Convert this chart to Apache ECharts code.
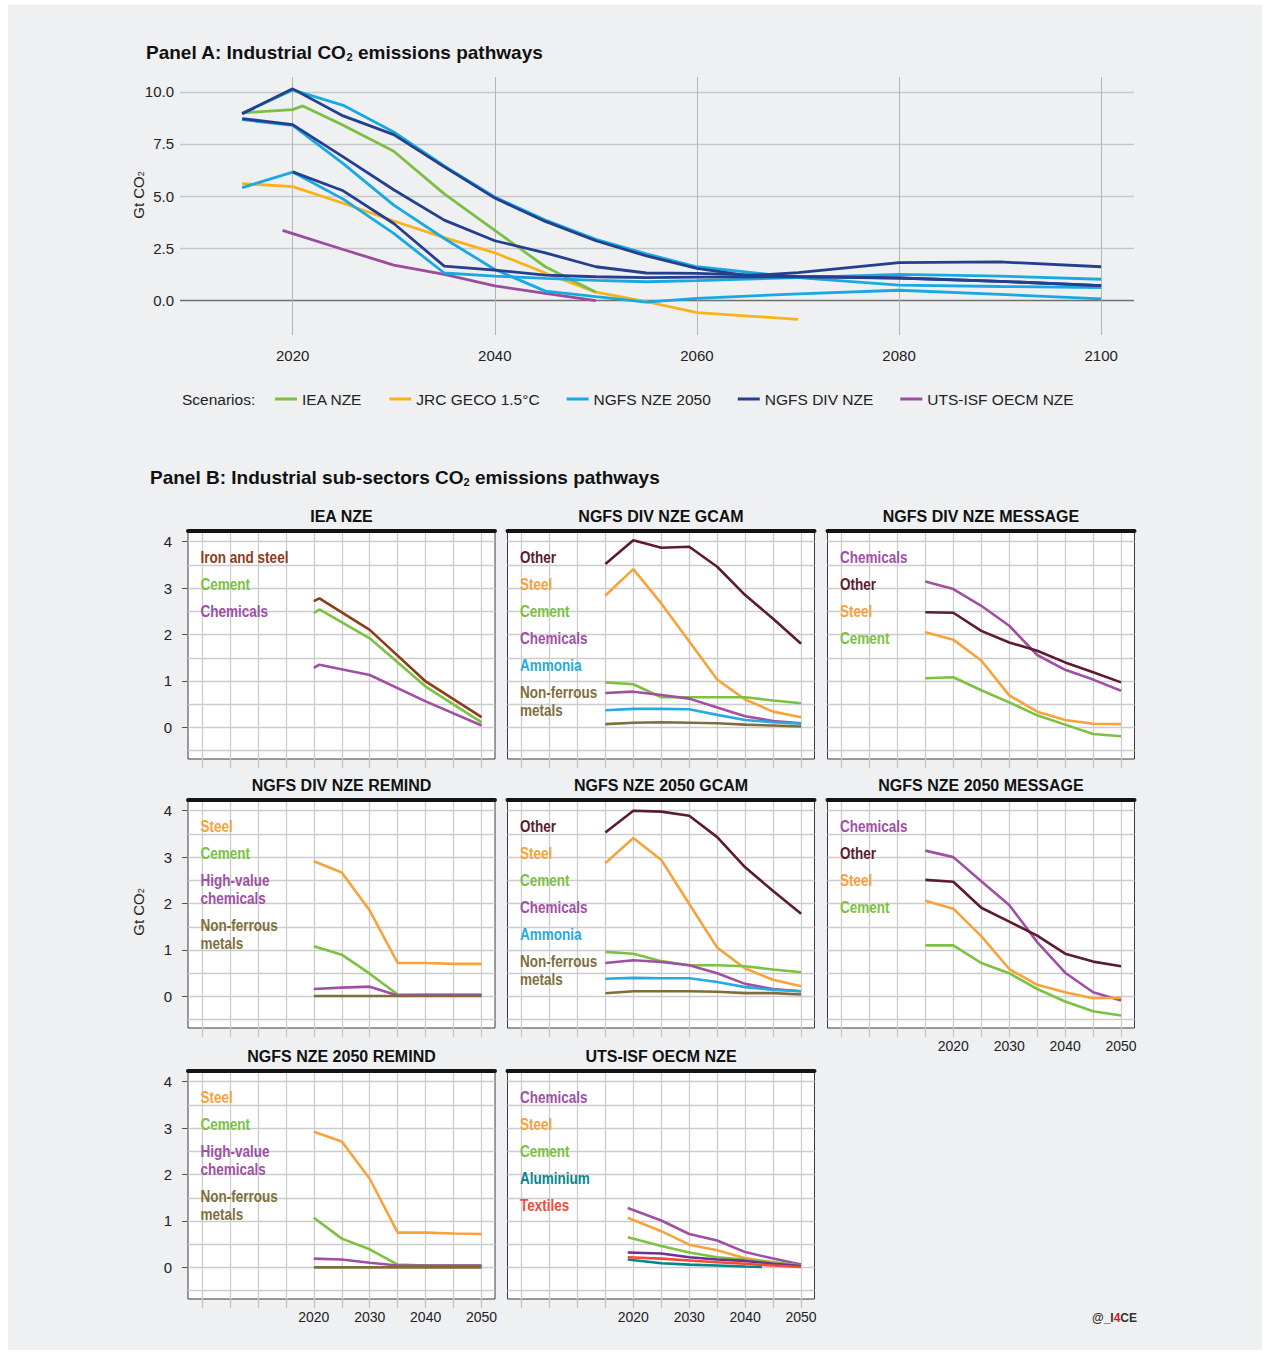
<!DOCTYPE html>
<html>
<head>
<meta charset="utf-8">
<script src="https://cdn.jsdelivr.net/npm/echarts@6/dist/echarts.min.js"></script>
<style>
html,body{margin:0;padding:0;background:#ffffff;}
#bg{position:absolute;left:8px;top:5px;width:1254px;height:1345px;background:#eff0f2;}
#chart{position:absolute;left:0;top:0;width:1263px;height:1352px;}
</style>
</head>
<body>
<div id="bg"></div>
<div id="chart"></div>
<script>
// ================= Panel A data =================
const scenarioNames = ['IEA NZE', 'JRC GECO 1.5°C', 'NGFS NZE 2050', 'NGFS DIV NZE', 'UTS-ISF OECM NZE'];
const xTicksA = [2020, 2040, 2060, 2080, 2100];
const yTicksA = [0, 2.5, 5, 7.5, 10];

const ieaYears = [2015, 2020, 2021, 2025, 2030, 2035, 2040, 2045, 2050];
const ieaValues = [9.0, 9.15, 9.33, 8.4, 7.15, 5.1, 3.35, 1.6, 0.37];

const jrcYears = [2015, 2020, 2025, 2030, 2035, 2040, 2045, 2050, 2055, 2060, 2070];
const jrcValues = [5.6, 5.45, 4.65, 3.8, 3.0, 2.27, 1.3, 0.38, -0.08, -0.6, -0.93];

const utsYears = [2019, 2025, 2030, 2035, 2040, 2045, 2050];
const utsValues = [3.35, 2.43, 1.68, 1.23, 0.68, 0.32, -0.03];

const ngfsYears = [2015, 2020, 2025, 2030, 2035, 2040, 2045, 2050, 2055, 2060, 2070, 2080, 2090, 2100];
const nzeGcamValues = [8.96, 10.1, 9.36, 8.08, 6.45, 4.95, 3.85, 2.92, 2.22, 1.6, 1.08, 0.72, 0.65, 0.6];
const nzeMessageValues = [8.67, 8.4, 6.56, 4.56, 2.96, 1.47, 0.43, 0.16, -0.1, 0.08, 0.3, 0.47, 0.27, 0.06];
const nzeRemindValues = [5.4, 6.15, 4.85, 3.2, 1.3, 1.15, 1.04, 0.95, 0.88, 0.93, 1.08, 1.23, 1.15, 1.0];

const divGcamYears = [2015, 2020, 2025, 2030, 2035, 2040, 2045, 2050, 2055, 2060, 2065, 2070, 2080, 2090, 2100];
const divGcamValues = [8.96, 10.15, 8.85, 7.95, 6.4, 4.9, 3.78, 2.85, 2.12, 1.52, 1.17, 1.32, 1.8, 1.83, 1.6];
const divMessageValues = [8.72, 8.43, 6.88, 5.3, 3.84, 2.85, 2.27, 1.6, 1.3, 1.28, 1.14, 1.06, 0.9, 0.69];
const divRemindYears = [2020, 2025, 2030, 2035, 2040, 2045, 2050, 2055, 2060, 2070, 2080, 2090, 2100];
const divRemindValues = [6.16, 5.25, 3.68, 1.63, 1.44, 1.2, 1.12, 1.08, 1.1, 1.12, 1.06, 0.9, 0.69];

// ================= Panel B data =================
const panelTitles = ['IEA NZE', 'NGFS DIV NZE GCAM', 'NGFS DIV NZE MESSAGE', 'NGFS DIV NZE REMIND',
  'NGFS NZE 2050 GCAM', 'NGFS NZE 2050 MESSAGE', 'NGFS NZE 2050 REMIND', 'UTS-ISF OECM NZE'];
const xTicksB = [2000, 2005, 2010, 2015, 2020, 2025, 2030, 2035, 2040, 2045, 2050];
const xLabelsB = [2020, 2030, 2040, 2050];
const yGridB = [-0.5, 0, 0.5, 1, 1.5, 2, 2.5, 3, 3.5, 4];
const yLabelsB = [0, 1, 2, 3, 4];

const yearsB = [2015, 2020, 2025, 2030, 2035, 2040, 2045, 2050];
const yearsIEA = [2020, 2021, 2030, 2040, 2050];
const yearsREMIND = [2020, 2025, 2030, 2035, 2040, 2045, 2050];
const yearsUTS = [2019, 2025, 2030, 2035, 2040, 2045, 2050];
const yearsUTSAluminium = [2019, 2025, 2030, 2035, 2040, 2043];

const ieaSectors = ['Iron and steel', 'Cement', 'Chemicals'];
const ieaIronSteel = [2.72, 2.78, 2.1, 0.99, 0.22];
const ieaCement = [2.46, 2.54, 1.92, 0.88, 0.11];
const ieaChemicals = [1.28, 1.35, 1.13, 0.56, 0.04];

const gcamSectors = ['Other', 'Steel', 'Cement', 'Chemicals', 'Ammonia', 'Non-ferrous metals'];
const divGcamOther = [3.52, 4.03, 3.87, 3.89, 3.46, 2.85, 2.34, 1.8];
const divGcamSteel = [2.84, 3.41, 2.67, 1.85, 1.03, 0.6, 0.34, 0.22];
const divGcamCement = [0.97, 0.93, 0.65, 0.65, 0.65, 0.65, 0.58, 0.52];
const divGcamChemicals = [0.74, 0.77, 0.7, 0.62, 0.43, 0.24, 0.14, 0.09];
const divGcamAmmonia = [0.37, 0.4, 0.4, 0.39, 0.27, 0.16, 0.11, 0.08];
const divGcamNonFerrous = [0.07, 0.1, 0.11, 0.1, 0.09, 0.06, 0.04, 0.02];

const messageSectors = ['Chemicals', 'Other', 'Steel', 'Cement'];
const divMsgChemicals = [3.14, 2.98, 2.62, 2.19, 1.56, 1.24, 1.03, 0.79];
const divMsgOther = [2.48, 2.47, 2.08, 1.83, 1.65, 1.4, 1.19, 0.97];
const divMsgSteel = [2.05, 1.89, 1.44, 0.69, 0.34, 0.16, 0.08, 0.07];
const divMsgCement = [1.06, 1.08, 0.8, 0.54, 0.26, 0.06, -0.14, -0.19];

const remindSectors = ['Steel', 'Cement', 'High-value chemicals', 'Non-ferrous metals'];
const divRemSteel = [2.91, 2.67, 1.85, 0.72, 0.72, 0.7, 0.7];
const divRemCement = [1.08, 0.9, 0.49, 0.04, 0.04, 0.04, 0.04];
const divRemHVC = [0.16, 0.19, 0.21, 0.02, 0.03, 0.03, 0.03];
const divRemNonFerrous = [0.01, 0.01, 0.01, 0.01, 0.01, 0.01, 0.01];

const nzeGcamOther = [3.53, 4.0, 3.98, 3.89, 3.43, 2.78, 2.27, 1.78];
const nzeGcamSteel = [2.87, 3.41, 2.94, 1.99, 1.05, 0.6, 0.36, 0.22];
const nzeGcamCement = [0.96, 0.92, 0.76, 0.67, 0.67, 0.65, 0.58, 0.52];
const nzeGcamChemicals = [0.72, 0.78, 0.74, 0.67, 0.5, 0.27, 0.16, 0.11];
const nzeGcamAmmonia = [0.38, 0.4, 0.39, 0.39, 0.31, 0.2, 0.14, 0.11];
const nzeGcamNonFerrous = [0.07, 0.11, 0.11, 0.11, 0.1, 0.07, 0.07, 0.04];

const nzeMsgChemicals = [3.14, 3.0, 2.48, 1.97, 1.17, 0.51, 0.09, -0.09];
const nzeMsgOther = [2.51, 2.47, 1.91, 1.61, 1.31, 0.92, 0.75, 0.65];
const nzeMsgSteel = [2.06, 1.89, 1.3, 0.59, 0.25, 0.09, -0.04, -0.03];
const nzeMsgCement = [1.1, 1.1, 0.72, 0.5, 0.16, -0.11, -0.32, -0.41];

const nzeRemSteel = [2.92, 2.71, 1.91, 0.75, 0.75, 0.73, 0.72];
const nzeRemCement = [1.07, 0.62, 0.39, 0.06, 0.04, 0.04, 0.04];
const nzeRemHVC = [0.19, 0.17, 0.1, 0.04, 0.04, 0.04, 0.04];
const nzeRemNonFerrous = [0, 0, 0, 0, 0, 0, 0];

const utsSectors = ['Chemicals', 'Steel', 'Cement', 'Other (unlabelled)', 'Aluminium', 'Textiles'];
const utsChemicals = [1.28, 1.01, 0.72, 0.58, 0.33, 0.19, 0.06];
const utsSteel = [1.07, 0.78, 0.49, 0.37, 0.2, 0.11, 0.03];
const utsCement = [0.65, 0.46, 0.32, 0.22, 0.17, 0.11, 0.04];
const utsUnlabelled = [0.32, 0.3, 0.22, 0.17, 0.14, 0.08, 0.03];
const utsAluminium = [0.17, 0.09, 0.06, 0.04, 0.02, 0.01];
const utsTextiles = [0.22, 0.19, 0.15, 0.11, 0.08, 0.04, 0.01];

const panelsB = [
  { sectors: ieaSectors, years: [yearsIEA, yearsIEA, yearsIEA], values: [ieaIronSteel, ieaCement, ieaChemicals] },
  { sectors: gcamSectors, years: [yearsB, yearsB, yearsB, yearsB, yearsB, yearsB],
    values: [divGcamOther, divGcamSteel, divGcamCement, divGcamChemicals, divGcamAmmonia, divGcamNonFerrous] },
  { sectors: messageSectors, years: [yearsB, yearsB, yearsB, yearsB], values: [divMsgChemicals, divMsgOther, divMsgSteel, divMsgCement] },
  { sectors: remindSectors, years: [yearsREMIND, yearsREMIND, yearsREMIND, yearsREMIND], values: [divRemSteel, divRemCement, divRemHVC, divRemNonFerrous] },
  { sectors: gcamSectors, years: [yearsB, yearsB, yearsB, yearsB, yearsB, yearsB],
    values: [nzeGcamOther, nzeGcamSteel, nzeGcamCement, nzeGcamChemicals, nzeGcamAmmonia, nzeGcamNonFerrous] },
  { sectors: messageSectors, years: [yearsB, yearsB, yearsB, yearsB], values: [nzeMsgChemicals, nzeMsgOther, nzeMsgSteel, nzeMsgCement] },
  { sectors: remindSectors, years: [yearsREMIND, yearsREMIND, yearsREMIND, yearsREMIND], values: [nzeRemSteel, nzeRemCement, nzeRemHVC, nzeRemNonFerrous] },
  { sectors: utsSectors, years: [yearsUTS, yearsUTS, yearsUTS, yearsUTS, yearsUTSAluminium, yearsUTS],
    values: [utsChemicals, utsSteel, utsCement, utsUnlabelled, utsAluminium, utsTextiles] }
];

// ================= styles & layout =================
const FONT = "'Liberation Sans', Arial, Helvetica, sans-serif";
const scenarioColors = { 'IEA NZE': '#7bbf43', 'JRC GECO 1.5°C': '#fbb11c', 'NGFS NZE 2050': '#18a9e2', 'NGFS DIV NZE': '#243f8e', 'UTS-ISF OECM NZE': '#9a4c9e' };
const sectorColors = {
  'Iron and steel': '#8c3b1c', 'Cement': '#7cc142', 'Chemicals': '#a04fa5', 'High-value chemicals': '#a04fa5',
  'Other': '#5c1a33', 'Steel': '#f8a23b', 'Ammonia': '#27a9e1', 'Non-ferrous metals': '#7f6e3c',
  'Aluminium': '#03858a', 'Textiles': '#ef4b37', 'Other (unlabelled)': '#70308d'
};
const wrapLabel = { 'Non-ferrous metals': 'Non-ferrous\nmetals', 'High-value chemicals': 'High-value\nchemicals' };

const colLeft = [188, 507.5, 827.5];
const rowTop = [531, 800, 1071];
const boxW = 307, boxH = 228;
const panelPos = [[0, 0], [0, 1], [0, 2], [1, 0], [1, 1], [1, 2], [2, 0], [2, 1]];
const xLabelPanels = [5, 6, 7];

const pairs = (xs, vs) => xs.map((x, i) => [x, vs[i]]);
const yearFmt = v => String(Math.round(v));

const grids = [], xAxes = [], yAxes = [], series = [], graphics = [];

// ---------- Panel A ----------
grids.push({ left: 180, top: 77, width: 954, height: 258 });
xAxes.push({
  gridIndex: 0, type: 'value', min: 2008.85, max: 2103.25,
  axisLine: { show: false, onZero: false },
  axisTick: { show: false, customValues: xTicksA },
  axisLabel: { customValues: xTicksA, formatter: yearFmt, fontSize: 15, color: '#222', margin: 13, fontFamily: FONT },
  splitLine: { show: true, lineStyle: { color: '#b4b4b4', width: 1 } }
});
yAxes.push({
  gridIndex: 0, type: 'value', min: -1.68, max: 10.72,
  axisLine: { show: false, onZero: false },
  axisTick: { show: false, customValues: yTicksA },
  axisLabel: { customValues: yTicksA, formatter: v => v.toFixed(1), fontSize: 15, color: '#222', margin: 6, fontFamily: FONT },
  splitLine: { show: true, lineStyle: { color: ['#6e6e6e', '#c8c8c8', '#c8c8c8', '#c8c8c8', '#c8c8c8'], width: 1.3 } }
});

function lineA(name, xs, vs) {
  series.push({
    type: 'line', name: name, xAxisIndex: 0, yAxisIndex: 0, data: pairs(xs, vs),
    showSymbol: false, symbol: 'none', silent: true,
    lineStyle: { color: scenarioColors[name], width: 2.8 }, itemStyle: { color: scenarioColors[name] }
  });
}
lineA('JRC GECO 1.5°C', jrcYears, jrcValues);
lineA('IEA NZE', ieaYears, ieaValues);
lineA('UTS-ISF OECM NZE', utsYears, utsValues);
lineA('NGFS NZE 2050', ngfsYears, nzeGcamValues);
lineA('NGFS NZE 2050', ngfsYears, nzeMessageValues);
lineA('NGFS NZE 2050', ngfsYears, nzeRemindValues);
lineA('NGFS DIV NZE', divGcamYears, divGcamValues);
lineA('NGFS DIV NZE', ngfsYears, divMessageValues);
lineA('NGFS DIV NZE', divRemindYears, divRemindValues);

// ---------- Panel B ----------
panelsB.forEach((p, i) => {
  const [r, c] = panelPos[i];
  const g = i + 1;
  grids.push({ left: colLeft[c], top: rowTop[r], width: boxW, height: boxH, show: true,
    backgroundColor: '#ffffff', borderColor: '#3a3a3a', borderWidth: 1 });
  const showX = xLabelPanels.includes(i);
  xAxes.push({
    gridIndex: g, type: 'value', position: 'bottom', min: 1997.5, max: 2052.4,
    axisLine: { show: false, onZero: false },
    axisTick: { show: true, customValues: xTicksB, length: 9, inside: false, lineStyle: { color: '#c4c4c4', width: 1.3 } },
    axisLabel: { show: showX, customValues: xLabelsB, formatter: yearFmt, fontSize: 14, color: '#222', margin: 11, fontFamily: FONT },
    splitLine: { show: true, lineStyle: { color: '#cccccc', width: 1.3 } }
  });
  xAxes.push({
    gridIndex: g, type: 'value', position: 'top', min: 1997.5, max: 2052.4,
    axisLine: { show: true, onZero: false, lineStyle: { color: '#141414', width: 4 } },
    axisTick: { show: false }, axisLabel: { show: false }, splitLine: { show: false }
  });
  yAxes.push({
    gridIndex: g, type: 'value', position: 'left', min: -0.68, max: 4.23,
    axisLine: { show: false, onZero: false },
    axisTick: { show: false, customValues: yGridB },
    axisLabel: { show: false },
    splitLine: { show: true, lineStyle: { color: '#cccccc', width: 1.3 } }
  });
  yAxes.push({
    gridIndex: g, type: 'value', position: 'left', min: -0.68, max: 4.23,
    axisLine: { show: false, onZero: false },
    axisTick: { show: c === 0, customValues: yLabelsB, length: 6, lineStyle: { color: '#555', width: 1 } },
    axisLabel: { show: c === 0, customValues: yLabelsB, fontSize: 15, color: '#222', margin: 16, fontFamily: FONT },
    splitLine: { show: false }
  });
  const xi = 1 + 2 * i, yi = 1 + 2 * i;
  p.sectors.forEach((s, k) => {
    series.push({
      type: 'line', name: panelTitles[i] + ' – ' + s, xAxisIndex: xi, yAxisIndex: yi,
      data: pairs(p.years[k], p.values[k]), showSymbol: false, symbol: 'none', silent: true,
      lineStyle: { color: sectorColors[s], width: 2.6 }, itemStyle: { color: sectorColors[s] }
    });
  });
  // sub-panel title
  graphics.push({ type: 'text', x: colLeft[c] + boxW / 2, y: rowTop[r] - 15, z: 100,
    style: { text: panelTitles[i], fontSize: 16, fontWeight: 'bold', fontFamily: FONT, fill: '#111', align: 'center', verticalAlign: 'middle' } });
  // in-panel labels (condensed look)
  let ly = rowTop[r] + 25.5;
  p.sectors.forEach(s => {
    if (s === 'Other (unlabelled)') return;
    const txt = wrapLabel[s] || s;
    const n = txt.split('\n').length;
    graphics.push({ type: 'text', x: colLeft[c] + 12.5, y: ly - 9, scaleX: 0.82, z: 100,
      style: { text: txt, fontSize: 16.5, fontWeight: 'bold', fontFamily: FONT, fill: sectorColors[s], lineHeight: 18, align: 'left', verticalAlign: 'top' } });
    ly += 27 + 18 * (n - 1);
  });
});

// ---------- titles and free texts ----------
const titleRich = {
  b: { fontSize: 19, fontWeight: 'bold', fontFamily: FONT, fill: '#111' },
  s: { fontSize: 11, fontWeight: 'bold', fontFamily: FONT, fill: '#111', verticalAlign: 'bottom', padding: [10, 0, 0, 0] }
};
graphics.push({ type: 'text', x: 146, y: 52, z: 100, style: { text: '{b|Panel A: Industrial CO}{s|2}{b| emissions pathways}', rich: titleRich, align: 'left', verticalAlign: 'middle' } });
graphics.push({ type: 'text', x: 150, y: 477, z: 100, style: { text: '{b|Panel B: Industrial sub-sectors CO}{s|2}{b| emissions pathways}', rich: titleRich, align: 'left', verticalAlign: 'middle' } });

const axisNameRich = {
  a: { fontSize: 15, fontFamily: FONT, fill: '#222' },
  s: { fontSize: 9, fontFamily: FONT, fill: '#222', verticalAlign: 'bottom', padding: [6, 0, 0, 0] }
};
graphics.push({ type: 'text', x: 138, y: 195, z: 100, rotation: Math.PI / 2, style: { text: '{a|Gt CO}{s|2}', rich: axisNameRich, align: 'center', verticalAlign: 'middle' } });
graphics.push({ type: 'text', x: 138, y: 912, z: 100, rotation: Math.PI / 2, style: { text: '{a|Gt CO}{s|2}', rich: axisNameRich, align: 'center', verticalAlign: 'middle' } });

graphics.push({ type: 'text', x: 182, y: 399, z: 100, style: { text: 'Scenarios:', fontSize: 15.5, fontFamily: FONT, fill: '#222', align: 'left', verticalAlign: 'middle' } });

graphics.push({ type: 'text', x: 1137, y: 1318, z: 100, style: {
  text: '{a|@_I}{r|4}{a|CE}', align: 'right', verticalAlign: 'middle',
  rich: { a: { fontSize: 12, fontWeight: 'bold', fontFamily: FONT, fill: '#333' }, r: { fontSize: 12, fontWeight: 'bold', fontFamily: FONT, fill: '#e3141b' } } } });

const option = {
  animation: false,
  backgroundColor: 'transparent',
  textStyle: { fontFamily: FONT },
  legend: {
    data: scenarioNames, left: 275, top: 391, padding: 0, icon: 'rect', itemWidth: 22, itemHeight: 3, itemGap: 27,
    selectedMode: false, textStyle: { fontSize: 15.5, color: '#222', fontFamily: FONT }
  },
  grid: grids,
  xAxis: xAxes,
  yAxis: yAxes,
  series: series,
  graphic: { elements: graphics }
};

const chart = echarts.init(document.getElementById('chart'), null, { renderer: 'svg' });
chart.setOption(option);
</script>
</body>
</html>
